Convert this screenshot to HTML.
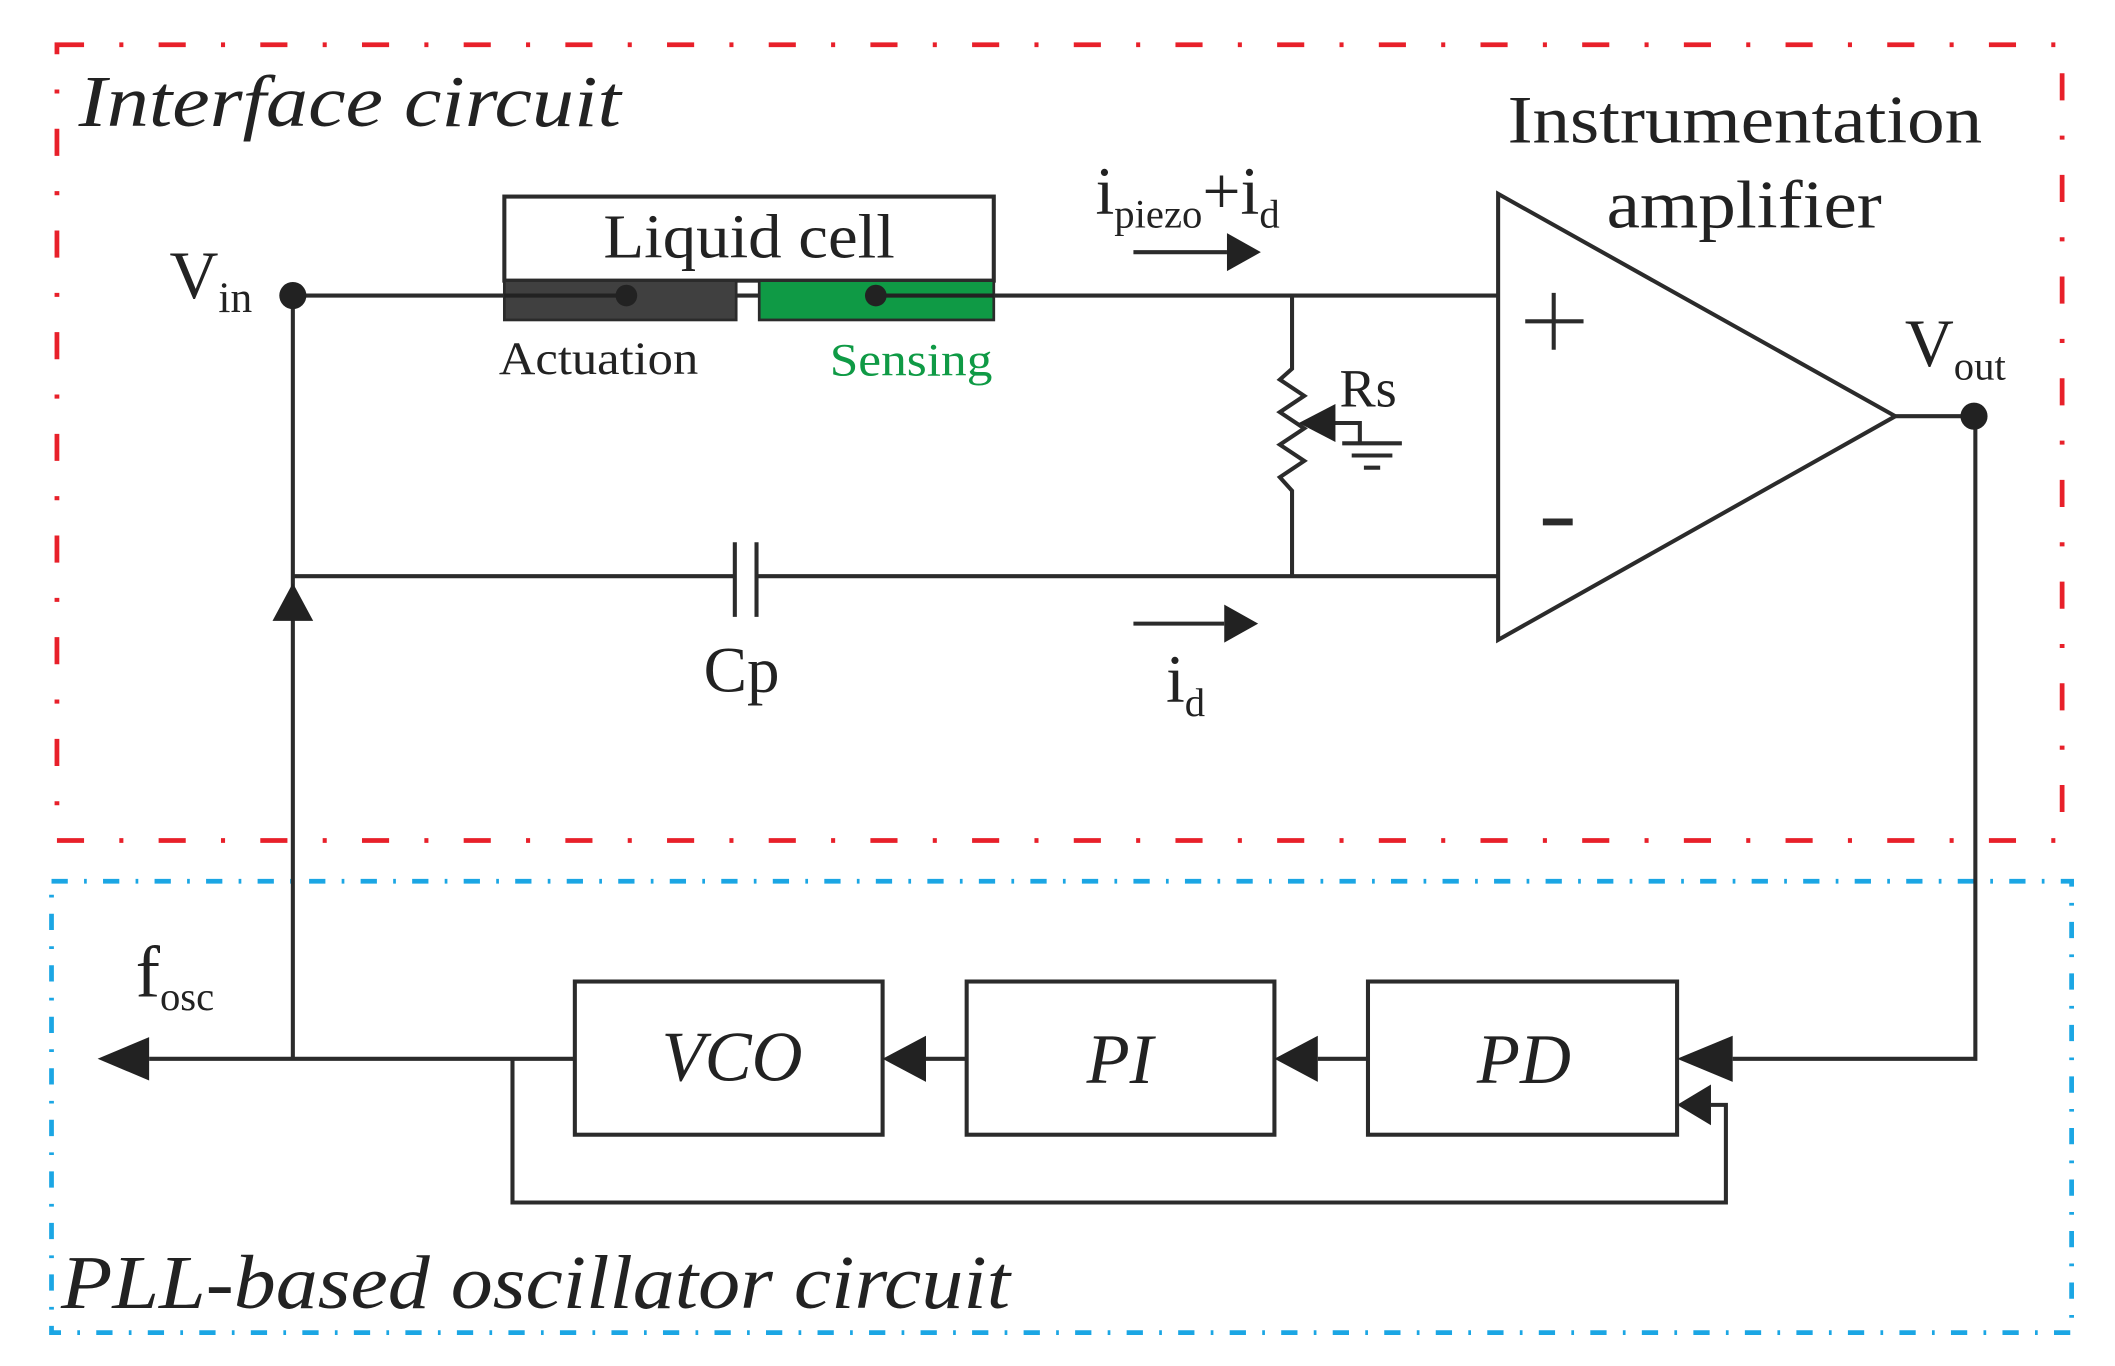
<!DOCTYPE html>
<html><head><meta charset="utf-8"><style>html,body{margin:0;padding:0;background:#fff}svg{display:block}</style></head>
<body>
<svg width="2115" height="1366" viewBox="0 0 1560 1007.6" preserveAspectRatio="none" xmlns="http://www.w3.org/2000/svg" font-family="Liberation Serif, serif">
<rect width="1560" height="1008" fill="#fff"/>
<rect x="42" y="33" width="1479" height="587" fill="none" stroke="#e8202a" stroke-width="3.5" stroke-dasharray="20 26 3 26"/>
<rect x="38" y="650" width="1490" height="333" fill="none" stroke="#1ba6e4" stroke-width="3.5" stroke-dasharray="12 12 2 12"/>
<text x="58" y="93" font-size="54" font-style="italic" fill="#222" textLength="400" lengthAdjust="spacingAndGlyphs">Interface circuit</text>
<text x="45" y="965" font-size="56" font-style="italic" fill="#222" textLength="700" lengthAdjust="spacingAndGlyphs">PLL-based oscillator circuit</text>
<g stroke="#2b2b2b" stroke-width="3" fill="none">
<line x1="216" y1="218" x2="1105" y2="218"/>
<line x1="216" y1="218" x2="216" y2="781"/>
<line x1="216" y1="425" x2="542" y2="425"/>
<line x1="558" y1="425" x2="1105" y2="425"/>
<line x1="542" y1="400" x2="542" y2="455"/>
<line x1="558" y1="400" x2="558" y2="455"/>
<polyline points="953,218 953,272 944,280 962,292 944,304 962,316 944,328 962,340 944,352 953,362 953,425"/>
<polygon points="1105,143 1105,472 1398,307"/>
<line x1="1398" y1="307" x2="1456" y2="307"/>
<polyline points="1457,307 1457,781 1278,781"/>
<line x1="1125" y1="237" x2="1168" y2="237"/>
<line x1="1146" y1="216" x2="1146" y2="258"/>
<line x1="1138" y1="385" x2="1160" y2="385" stroke-width="5"/>
<rect x="424" y="724" width="227" height="113"/>
<rect x="713" y="724" width="227" height="113"/>
<rect x="1009" y="724" width="228" height="113"/>
<line x1="683" y1="781" x2="713" y2="781"/>
<line x1="972" y1="781" x2="1009" y2="781"/>
<line x1="110" y1="781" x2="424" y2="781"/>
<polyline points="378,781 378,887 1273,887 1273,815 1262,815"/>
<line x1="836" y1="186" x2="905" y2="186"/>
<line x1="836" y1="460" x2="903" y2="460"/>
<polyline points="982,312 1003,312 1003,327"/>
<line x1="990" y1="327" x2="1034" y2="327"/>
<line x1="997" y1="336" x2="1027" y2="336"/>
<line x1="1006" y1="345" x2="1018" y2="345"/>
</g>
<g fill="#222">
<polygon points="905,172 930,186 905,200"/>
<polygon points="903,446 928,460 903,474"/>
<polygon points="216,430 201,458 231,458"/>
<polygon points="72,781 110,765 110,797"/>
<polygon points="651,781 683,764 683,798"/>
<polygon points="940,781 972,764 972,798"/>
<polygon points="1237,781 1278,764 1278,798"/>
<polygon points="1237,815 1262,800 1262,830"/>
<polygon points="958,312 985,298 985,326"/>
<circle cx="216" cy="218" r="10"/>
<circle cx="1456" cy="307" r="10"/>
</g>
<rect x="372" y="145" width="361" height="62" fill="#fff" stroke="#2b2b2b" stroke-width="3"/>
<rect x="372" y="207" width="171" height="29" fill="#404040" stroke="#2b2b2b" stroke-width="2"/>
<rect x="560" y="207" width="173" height="29" fill="#0f9a45" stroke="#2b2b2b" stroke-width="2"/>
<line x1="372" y1="218" x2="462" y2="218" stroke="#222" stroke-width="3"/>
<line x1="646" y1="218" x2="733" y2="218" stroke="#222" stroke-width="3"/>
<circle cx="462" cy="218" r="8" fill="#222"/>
<circle cx="646" cy="218" r="8" fill="#222"/>
<g fill="#222">
<text x="445" y="190" font-size="46" textLength="215" lengthAdjust="spacingAndGlyphs">Liquid cell</text>
<text x="368" y="276" font-size="34" textLength="147" lengthAdjust="spacingAndGlyphs">Actuation</text>
<text x="612" y="277" font-size="34" fill="#0f9a45" textLength="120" lengthAdjust="spacingAndGlyphs">Sensing</text>
<text x="125" y="220" font-size="50">V<tspan font-size="32" dy="10">in</tspan></text>
<text x="1405" y="270" font-size="50">V<tspan font-size="30" dy="10">out</tspan></text>
<text x="988" y="300" font-size="40">Rs</text>
<text x="547" y="510" font-size="48" text-anchor="middle">Cp</text>
<text x="860" y="518" font-size="50">i<tspan font-size="30" dy="10">d</tspan></text>
<text x="808" y="158" font-size="50">i<tspan font-size="30" dy="10">piezo</tspan><tspan dy="-10">+i</tspan><tspan font-size="30" dy="10">d</tspan></text>
<text x="1112" y="105" font-size="50" textLength="350" lengthAdjust="spacingAndGlyphs">Instrumentation</text>
<text x="1185" y="168" font-size="50" textLength="203" lengthAdjust="spacingAndGlyphs">amplifier</text>
<text x="100" y="735" font-size="54">f<tspan font-size="30" dy="10">osc</tspan></text>
<text x="540" y="797" font-size="52" font-style="italic" text-anchor="middle">VCO</text>
<text x="826" y="799" font-size="52" font-style="italic" text-anchor="middle">PI</text>
<text x="1124" y="799" font-size="52" font-style="italic" text-anchor="middle">PD</text>
</g>
</svg>
</body></html>
